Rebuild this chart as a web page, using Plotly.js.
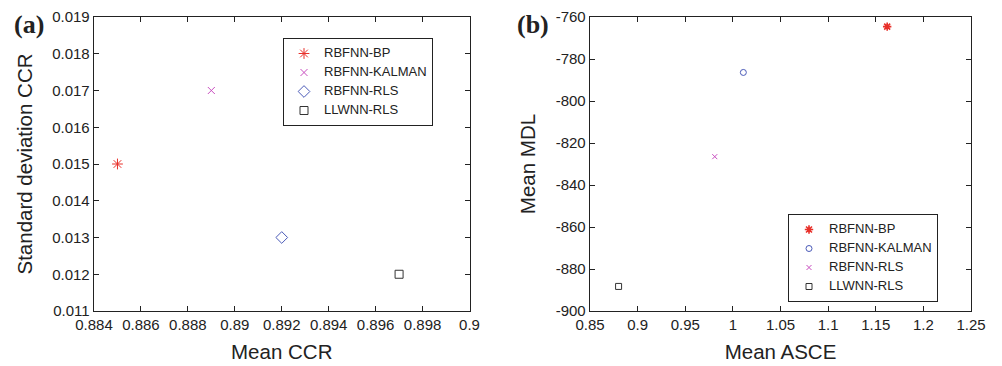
<!DOCTYPE html>
<html>
<head>
<meta charset="utf-8">
<script src="https://cdn.plot.ly/plotly-3.0.1.min.js"></script>
<style>html,body{margin:0;padding:0;background:#fff;}#chart{width:1002px;height:366px;}</style>
</head>
<body>
<div id="chart"></div>
<script>
// Panel (a)
const seriesA = ["RBFNN-BP", "RBFNN-KALMAN", "RBFNN-RLS", "LLWNN-RLS"];
const meanCCR = [0.885, 0.889, 0.892, 0.897];
const stdCCR = [0.015, 0.017, 0.013, 0.012];
const xTicksA = [0.884, 0.886, 0.888, 0.89, 0.892, 0.894, 0.896, 0.898, 0.9];
const xTickTextA = ["0.884", "0.886", "0.888", "0.89", "0.892", "0.894", "0.896", "0.898", "0.9"];
const yTicksA = [0.011, 0.012, 0.013, 0.014, 0.015, 0.016, 0.017, 0.018, 0.019];
const yTickTextA = ["0.011", "0.012", "0.013", "0.014", "0.015", "0.016", "0.017", "0.018", "0.019"];

// Panel (b)
const seriesB = ["RBFNN-BP", "RBFNN-KALMAN", "RBFNN-RLS", "LLWNN-RLS"];
const meanASCE = [1.162, 1.011, 0.981, 0.880];
const meanMDL = [-764.6, -786.4, -826.5, -888.3];
const xTicksB = [0.85, 0.9, 0.95, 1, 1.05, 1.1, 1.15, 1.2, 1.25];
const xTickTextB = ["0.85", "0.9", "0.95", "1", "1.05", "1.1", "1.15", "1.2", "1.25"];
const yTicksB = [-900, -880, -860, -840, -820, -800, -780, -760];
const yTickTextB = ["-900", "-880", "-860", "-840", "-820", "-800", "-780", "-760"];

const symA = ["asterisk-open", "x-thin-open", "diamond-open", "square-open"];
const colA = ["#e8302a", "#c94fc0", "#4a5ab8", "#333333"];
const sizeA = [9, 7, 9, 8];
const symB = ["asterisk-open", "circle-open", "x-thin-open", "square-open"];
const colB = ["#e8302a", "#4a5ab8", "#c94fc0", "#333333"];
const sizeB = [7, 6, 5, 6];

const FAM = "Liberation Sans, Arial, sans-serif";
const lbl = (s) => '<span style="font-size:13px">' + s + '</span>';

const traces = [];
seriesA.forEach((name, i) => {
  traces.push({
    type: "scatter", mode: "markers", name: lbl(name),
    x: [meanCCR[i]], y: [stdCCR[i]], xaxis: "x", yaxis: "y", legend: "legend",
    marker: {symbol: symA[i], size: sizeA[i], color: colA[i], line: {color: colA[i], width: 1}}
  });
});
seriesB.forEach((name, i) => {
  traces.push({
    type: "scatter", mode: "markers", name: lbl(name),
    x: [meanASCE[i]], y: [meanMDL[i]], xaxis: "x2", yaxis: "y2", legend: "legend2",
    marker: {symbol: symB[i], size: sizeB[i], color: colB[i], line: {color: colB[i], width: i === 0 ? 1.6 : 1}}
  });
});

function ax(domain, range, tv, tt, title, anchor, standoff) {
  return {
    domain: domain, range: range, tickmode: "array", tickvals: tv, ticktext: tt,
    ticks: "inside", ticklen: 5, tickwidth: 1, tickcolor: "#222",
    showline: true, linecolor: "#222", linewidth: 1.3, mirror: "ticks",
    showgrid: false, zeroline: false, anchor: anchor, automargin: false,
    tickfont: {size: 15, color: "#222", family: FAM},
    title: {text: title, standoff: standoff, font: {size: 20.5, color: "#222", family: FAM}}
  };
}

const yDom = [1 - 311 / 366, 1 - 17 / 366];
const legendStyle = {
  xanchor: "left", yanchor: "top",
  bordercolor: "#222", borderwidth: 1, bgcolor: "#fff",
  font: {size: 10, color: "#222", family: FAM}, tracegroupgap: 0, itemsizing: "trace"
};
const layout = {
  width: 1002, height: 366,
  margin: {l: 0, r: 0, t: 0, b: 0},
  paper_bgcolor: "#fff", plot_bgcolor: "#fff",
  font: {family: FAM, color: "#222", size: 14},
  showlegend: true,
  xaxis: ax([94 / 1002, 469.5 / 1002], [0.884, 0.9], xTicksA, xTickTextA, "Mean CCR", "y", 12),
  yaxis: ax(yDom, [0.011, 0.019], yTicksA, yTickTextA, "Standard deviation CCR", "x", 14),
  xaxis2: ax([590 / 1002, 971 / 1002], [0.85, 1.25], xTicksB, xTickTextB, "Mean ASCE", "y2", 12),
  yaxis2: ax(yDom, [-900, -760], yTicksB, yTickTextB, "Mean MDL", "x2", 14),
  legend: Object.assign({x: 283 / 1002, y: 1 - 38 / 366}, legendStyle),
  legend2: Object.assign({x: 788 / 1002, y: 1 - 214 / 366}, legendStyle),
  annotations: [
    {text: "<b>(a)</b>", xref: "paper", yref: "paper", x: 12 / 1002, y: 1 - 25 / 366, xanchor: "left", yanchor: "middle", showarrow: false,
     font: {family: "Liberation Serif, Times New Roman, serif", size: 26, color: "#222"}},
    {text: "<b>(b)</b>", xref: "paper", yref: "paper", x: 515 / 1002, y: 1 - 25 / 366, xanchor: "left", yanchor: "middle", showarrow: false,
     font: {family: "Liberation Serif, Times New Roman, serif", size: 26, color: "#222"}}
  ]
};

Plotly.newPlot("chart", traces, layout, {staticPlot: true, displayModeBar: false});
</script>
</body>
</html>
